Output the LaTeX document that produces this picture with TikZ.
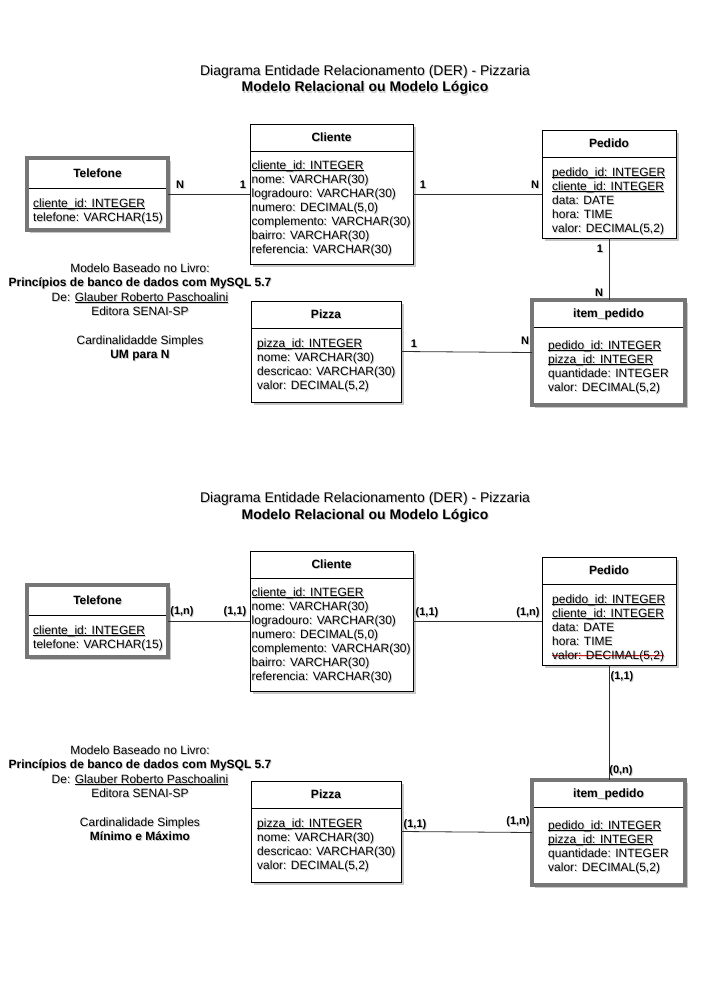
\documentclass[tikz,border=0pt]{standalone}
\usepackage{fontspec}
\setmainfont{Liberation Sans}
\usetikzlibrary{shadows,fit}
\definecolor{weakgray}{RGB}{118,118,118}
\definecolor{strkred}{RGB}{205,30,30}
\definecolor{linec}{RGB}{45,45,45}
\newcommand\ulx[1]{\leavevmode\setbox0\hbox{#1}\rlap{\rule[-1.6pt]{\wd0}{0.6pt}}\box0}
\newcommand\strk[1]{\leavevmode\setbox0\hbox{#1}\rlap{\textcolor{strkred}{\rule[3.4pt]{\wd0}{1pt}}}\box0}
\tikzset{
  ebox/.style={draw=black, line width=0.8pt, fill=white, inner sep=0pt, outer sep=0pt,
    drop shadow={shadow xshift=2.5pt, shadow yshift=-2.5pt, opacity=0.22, fill=black}},
  wbox/.style={ebox, draw=weakgray, line width=3.5pt},
  attr/.style={font=\fontsize{12}{14}\selectfont, inner sep=0pt, anchor=base west, text=black},
  ttl/.style={font=\bfseries\fontsize{12}{14}\selectfont, inner sep=0pt, anchor=base},
  lbl/.style={font=\bfseries\fontsize{11}{13}\selectfont, inner sep=0pt},
  plain/.style={font=\fontsize{12}{14}\selectfont, inner sep=0pt, anchor=base},
  plainb/.style={font=\bfseries\fontsize{12}{14}\selectfont, inner sep=0pt, anchor=base},
  bigt/.style={font=\fontsize{14}{17}\selectfont, inner sep=0pt, anchor=base},
  bigtb/.style={font=\bfseries\fontsize{14}{17}\selectfont, inner sep=0pt, anchor=base},
  tsh/.style={text=black, opacity=0.2, xshift=1pt, yshift=-1pt},
  conn/.style={draw=linec, line width=0.8pt},
  divl/.style={draw=black, line width=0.8pt}
}
% shadowed text node: name, style, position, text
\newcommand\stext[4]{%
  \node[#2, tsh] (#1s) at (#3) {#4};
  \node[#2] (#1) at (#3) {#4};}
% entity: name, style, x1, y1, x2, y2, divider y, title, shorten
\newcommand\entity[9]{%
  \node[#2, fit={(#3,#4)(#5,#6)}] (#1) {};
  \draw[divl, shorten <=#9, shorten >=#9] (#1.west |- 0,#7) -- (#1.east |- 0,#7);
  \stext{#1t}{ttl}{{(#3+#5)/2},{(#4+#7)/2+4.3}}{#8}}
% rows: name, x, first baseline y, list
\newcommand\rows[4]{%
  \foreach \t [count=\i from 0] in {#4}{\stext{#1r\i}{attr}{#2,{#3+14*\i}}{\t}}}
\begin{document}
\begin{tikzpicture}[x=1pt,y=-1pt]
\useasboundingbox (0,0) rectangle (726,998);
\fill[white] (0,0) rectangle (726,998);

% ================= TOP DIAGRAM =================
\stext{t1}{bigt}{365,75}{Diagrama Entidade Relacionamento (DER) - Pizzaria}
\stext{t2}{bigtb}{365,92}{Modelo Relacional ou Modelo Lógico}

\entity{tel}{wbox}{27}{158}{168}{230}{188}{Telefone}{1.75pt}
\rows{tel}{33}{207}{\ulx{cliente\_id: INTEGER}, {telefone: VARCHAR(15)}}

\entity{cli}{ebox}{250}{124}{413}{264}{151}{Cliente}{0pt}
\rows{cli}{251.5}{169}{\ulx{cliente\_id: INTEGER}, {nome: VARCHAR(30)}, {logradouro: VARCHAR(30)}, {numero: DECIMAL(5,0)}, {complemento: VARCHAR(30)}, {bairro: VARCHAR(30)}, {referencia: VARCHAR(30)}}

\entity{ped}{ebox}{542}{130}{676}{238}{157}{Pedido}{0pt}
\rows{ped}{552}{176}{\ulx{pedido\_id: INTEGER}, \ulx{cliente\_id: INTEGER}, {data: DATE}, {hora: TIME}, {valor: DECIMAL(5,2)}}

\entity{item}{wbox}{532}{300}{685}{405}{327}{item\_pedido}{1.75pt}
\rows{item}{548}{349}{\ulx{pedido\_id: INTEGER}, \ulx{pizza\_id: INTEGER}, {quantidade: INTEGER}, {valor: DECIMAL(5,2)}}

\entity{piz}{ebox}{251}{301}{401}{402}{328}{Pizza}{0pt}
\rows{piz}{257}{347}{\ulx{pizza\_id: INTEGER}, {nome: VARCHAR(30)}, {descricao: VARCHAR(30)}, {valor: DECIMAL(5,2)}}

\draw[conn] (tel.east) -- (cli.west);
\draw[conn] (cli.east) -- (cli.east -| ped.west);
\draw[conn] (ped.south) -- (ped.south |- item.north);
\draw[conn] (piz.east) -- (item.west);

\stext{la}{lbl}{180,185}{N}
\stext{lb}{lbl}{243,185}{1}
\stext{lc}{lbl}{423,185}{1}
\stext{ld}{lbl}{535,185}{N}
\stext{le}{lbl}{600,249}{1}
\stext{lf}{lbl}{599,293}{N}
\stext{lg}{lbl}{414,344}{1}
\stext{lh}{lbl}{525,341}{N}

\stext{m1}{plain}{140,272.3}{Modelo Baseado no Livro:}
\stext{m2}{plainb}{140,286.7}{Princípios de banco de dados com MySQL 5.7}
\stext{m3}{plain}{140,301.1}{De: \ulx{Glauber Roberto Paschoalini}}
\stext{m4}{plain}{140,315.5}{Editora SENAI-SP}
\stext{m5}{plain}{140,344.3}{Cardinalidadde Simples}
\stext{m6}{plainb}{140,358.7}{UM para N}

% ================= BOTTOM DIAGRAM =================
\stext{u1}{bigt}{365,502}{Diagrama Entidade Relacionamento (DER) - Pizzaria}
\stext{u2}{bigtb}{365,519}{Modelo Relacional ou Modelo Lógico}

\entity{telb}{wbox}{27}{585}{168}{657}{615}{Telefone}{1.75pt}
\rows{telb}{33}{634}{\ulx{cliente\_id: INTEGER}, {telefone: VARCHAR(15)}}

\entity{clib}{ebox}{250}{551}{413}{691}{578}{Cliente}{0pt}
\rows{clib}{251.5}{596}{\ulx{cliente\_id: INTEGER}, {nome: VARCHAR(30)}, {logradouro: VARCHAR(30)}, {numero: DECIMAL(5,0)}, {complemento: VARCHAR(30)}, {bairro: VARCHAR(30)}, {referencia: VARCHAR(30)}}

\entity{pedb}{ebox}{542}{557}{676}{665}{584}{Pedido}{0pt}
\rows{pedb}{552}{603}{\ulx{pedido\_id: INTEGER}, \ulx{cliente\_id: INTEGER}, {data: DATE}, {hora: TIME}, {\strk{valor: DECIMAL(5,2)}}}

\entity{itemb}{wbox}{532}{780}{685}{885}{807}{item\_pedido}{1.75pt}
\rows{itemb}{548}{829}{\ulx{pedido\_id: INTEGER}, \ulx{pizza\_id: INTEGER}, {quantidade: INTEGER}, {valor: DECIMAL(5,2)}}

\entity{pizb}{ebox}{251}{781}{401}{882}{808}{Pizza}{0pt}
\rows{pizb}{257}{827}{\ulx{pizza\_id: INTEGER}, {nome: VARCHAR(30)}, {descricao: VARCHAR(30)}, {valor: DECIMAL(5,2)}}

\draw[conn] (telb.east) -- (clib.west);
\draw[conn] (clib.east) -- (clib.east -| pedb.west);
\draw[conn] (pedb.south) -- (pedb.south |- itemb.north);
\draw[conn] (pizb.east) -- (itemb.west);

\stext{na}{lbl}{182,612}{(1,n)}
\stext{nb}{lbl}{235,612}{(1,1)}
\stext{nc}{lbl}{427,613}{(1,1)}
\stext{nd}{lbl}{528,613}{(1,n)}
\stext{ne}{lbl}{622,677}{(1,1)}
\stext{nf}{lbl}{621,771}{(0,n)}
\stext{ng}{lbl}{415,825}{(1,1)}
\stext{nh}{lbl}{518,822}{(1,n)}

\stext{w1}{plain}{140,754.3}{Modelo Baseado no Livro:}
\stext{w2}{plainb}{140,768.7}{Princípios de banco de dados com MySQL 5.7}
\stext{w3}{plain}{140,783.1}{De: \ulx{Glauber Roberto Paschoalini}}
\stext{w4}{plain}{140,797.5}{Editora SENAI-SP}
\stext{w5}{plain}{140,826.3}{Cardinalidade Simples}
\stext{w6}{plainb}{140,840.7}{Mínimo e Máximo}
\end{tikzpicture}
\end{document}
